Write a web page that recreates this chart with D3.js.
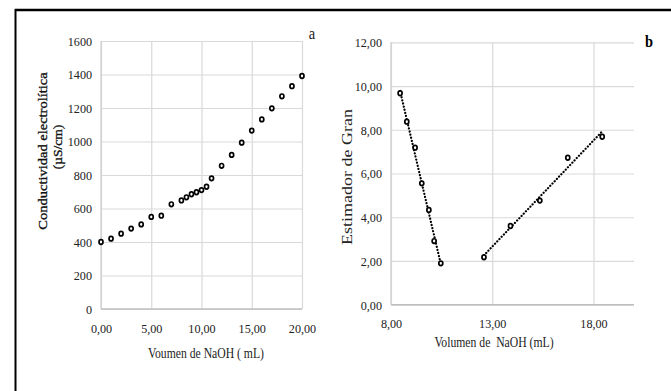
<!DOCTYPE html>
<html>
<head>
<meta charset="utf-8">
<script src="https://d3js.org/d3.v7.min.js"></script>
<style>
  body { margin: 0; background: #fff; }
  svg { display: block; font-family: "Liberation Serif", "Times New Roman", serif; }
  .grid line { stroke: #d9d9d9; stroke-width: 1.2; }
  .grid .domain { display: none; }
  .ticks .domain, .ticks line { display: none; }
  .ticks text { fill: #222; font-size: 13.5px; font-family: "Liberation Serif", serif; }
</style>
</head>
<body>
<svg id="chart" width="671" height="391"></svg>
<script>
// chart a: conductividad vs volumen
const volA = [0, 1, 2, 3, 4, 5, 6, 7, 8, 8.5, 9, 9.5, 10, 10.5, 11, 12, 13, 14, 15, 16, 17, 18, 19, 20];
const condA = [400, 420, 450, 480, 505, 550, 557, 625, 648, 667, 685, 697, 710, 730, 780, 855, 920, 993, 1065, 1132, 1198, 1270, 1330, 1391];
const ticksAy = [0, 200, 400, 600, 800, 1000, 1200, 1400, 1600];
const ticksAx = [0, 5, 10, 15, 20];

// chart b: estimador de Gran, two branches
const volB1 = [8.45, 8.78, 9.19, 9.52, 9.87, 10.13, 10.46];
const granB1 = [9.67, 8.37, 7.18, 5.55, 4.33, 2.91, 1.89];
const volB2 = [12.59, 13.9, 15.35, 16.73, 18.43];
const granB2 = [2.17, 3.6, 4.76, 6.72, 7.68];
const ticksBy = [0, 2, 4, 6, 8, 10, 12];
const ticksBx = [8, 13, 18];

const svg = d3.select("#chart");
const comma = d3.formatLocale({decimal: ",", thousands: ".", grouping: [3], currency: ["", ""]}).format(".2f");

svg.append("rect").attr("width", 671).attr("height", 391).attr("fill", "#fff");

// outer frame (top and left edges only)
svg.append("line").attr("x1", 15).attr("x2", 671).attr("y1", 10).attr("y2", 10)
   .attr("stroke", "#000").attr("stroke-width", 2.5);
svg.append("line").attr("x1", 15.5).attr("x2", 15.5).attr("y1", 9).attr("y2", 391)
   .attr("stroke", "#000").attr("stroke-width", 2);

function panel(opts) {
    const x = d3.scaleLinear().domain(opts.xDomain).range([opts.left, opts.right]);
    const y = d3.scaleLinear().domain(opts.yDomain).range([opts.bottom, opts.top]);
    const w = opts.right - opts.left, h = opts.bottom - opts.top;

    // gridlines
    svg.append("g").attr("class", "grid")
       .attr("transform", `translate(0,${opts.bottom})`)
       .call(d3.axisBottom(x).tickValues(opts.xTicks).tickSize(-h).tickFormat(""));
    svg.append("g").attr("class", "grid")
       .attr("transform", `translate(${opts.left},0)`)
       .call(d3.axisLeft(y).tickValues(opts.yTicks).tickSize(-w).tickFormat(""));

    // axis lines
    svg.append("line").attr("x1", opts.left).attr("x2", opts.right)
       .attr("y1", opts.bottom).attr("y2", opts.bottom)
       .attr("stroke", "#bfbfbf").attr("stroke-width", 1.5);
    svg.append("line").attr("x1", opts.left).attr("x2", opts.left)
       .attr("y1", opts.top).attr("y2", opts.bottom)
       .attr("stroke", "#cfcfcf").attr("stroke-width", 1.2);

    // tick labels
    const xa = svg.append("g").attr("class", "ticks")
       .attr("transform", `translate(0,${opts.bottom})`)
       .call(d3.axisBottom(x).tickValues(opts.xTicks).tickFormat(opts.xFmt).tickSize(0).tickPadding(14));
    xa.attr("font-family", null).attr("font-size", null);
    xa.selectAll("text").attr("transform", "scale(0.9,1)");
    const ya = svg.append("g").attr("class", "ticks")
       .attr("transform", `translate(${opts.left},0)`)
       .call(d3.axisLeft(y).tickValues(opts.yTicks).tickFormat(opts.yFmt).tickSize(0).tickPadding(10));
    ya.attr("font-family", null).attr("font-size", null);
    ya.selectAll("text").attr("transform", "scale(0.9,1)");

    return {x, y};
}

function dots(sc, xs, ys) {
    svg.append("g").selectAll("ellipse")
       .data(xs.map((v, i) => [v, ys[i]]))
       .join("ellipse")
       .attr("cx", d => sc.x(d[0]))
       .attr("cy", d => sc.y(d[1]))
       .attr("rx", 2).attr("ry", 2.3)
       .attr("fill", "#fff")
       .attr("stroke", "#000")
       .attr("stroke-width", 1.7);
}

function trend(sc, xs, ys) {
    const mx = d3.mean(xs), my = d3.mean(ys);
    const slope = d3.sum(xs, (v, i) => (v - mx) * (ys[i] - my)) / d3.sum(xs, v => (v - mx) * (v - mx));
    const x0 = d3.min(xs), x1 = d3.max(xs);
    const pts = [[x0, my + slope * (x0 - mx)], [x1, my + slope * (x1 - mx)]];
    svg.append("path")
       .attr("d", d3.line().x(d => sc.x(d[0])).y(d => sc.y(d[1]))(pts))
       .attr("fill", "none")
       .attr("stroke", "#000")
       .attr("stroke-width", 2.2)
       .attr("stroke-linecap", "round")
       .attr("stroke-dasharray", "0.1 3.1");
}

function label(txt, x, y, size, sx, rot, extra) {
    const t = svg.append("text")
       .attr("transform", `translate(${x},${y}) scale(${sx},1)` + (rot ? " rotate(-90)" : ""))
       .attr("text-anchor", "middle")
       .attr("font-size", size + "px")
       .attr("fill", "#222")
       .style("white-space", "pre")
       .text(txt);
    if (extra) extra(t);
    return t;
}

const heavier = t => t.attr("fill", "#111").attr("stroke", "#111").attr("stroke-width", 0.35);

// ---- panel a
const scA = panel({
    xDomain: [0, 20], yDomain: [0, 1600],
    left: 101, right: 302, top: 41, bottom: 309,
    xTicks: ticksAx, yTicks: ticksAy,
    xFmt: comma, yFmt: d3.format("d")
});
dots(scA, volA, condA);

label("Voumen de NaOH ( mL)", 206, 358, 15, 0.78, false);
label("Conductividad electrolítica", 47, 151, 14.5, 0.92, true, heavier);
label("(µS/cm)", 62, 147, 13.5, 0.92, true, heavier);
label("a", 312, 39, 17, 0.85, false);

// ---- panel b
const scB = panel({
    xDomain: [8, 20], yDomain: [0, 12],
    left: 391, right: 634, top: 42.3, bottom: 304.7,
    xTicks: ticksBx, yTicks: ticksBy,
    xFmt: comma, yFmt: comma
});
trend(scB, volB1, granB1);
trend(scB, volB2, granB2);
dots(scB, volB1, granB1);
dots(scB, volB2, granB2);

label("Volumen de  NaOH (mL)", 494, 347, 15, 0.78, false);
label("Estimador de Gran", 352, 177, 18, 0.78, true);
label("b", 649, 47, 17, 0.85, false, t => t.attr("font-weight", "bold").attr("fill", "#000"));
</script>
</body>
</html>
